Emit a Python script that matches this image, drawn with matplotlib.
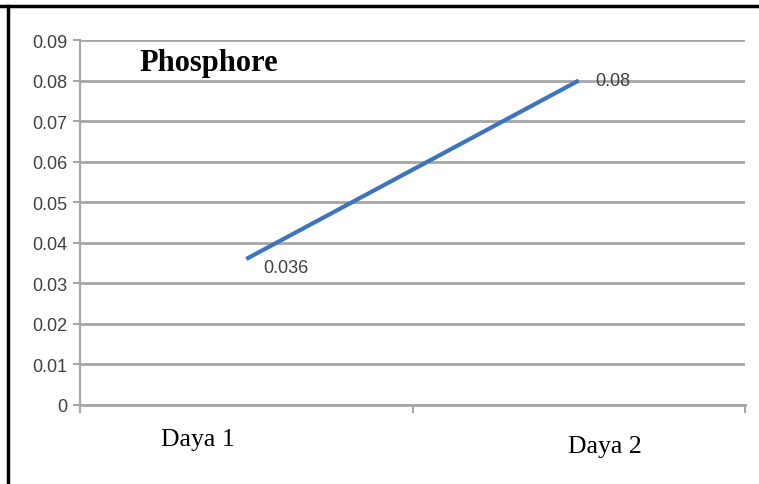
import matplotlib.pyplot as plt
from matplotlib.lines import Line2D

days = ["Daya 1", "Daya 2"]
phosphore = [0.036, 0.08]
point_labels = ["0.036", "0.08"]
y_ticks = [0, 0.01, 0.02, 0.03, 0.04, 0.05, 0.06, 0.07, 0.08, 0.09]
y_tick_labels = ["0", "0.01", "0.02", "0.03", "0.04", "0.05", "0.06", "0.07", "0.08", "0.09"]

fig = plt.figure(figsize=(7.59, 4.85), dpi=100)
ax = fig.add_axes([80 / 759, 1 - 406 / 485, 665 / 759, 365 / 485])

grid_col = "#a6a6a6"
text_col = "#404040"

x = [0.5, 1.5]
ax.plot(x, phosphore, color="#3f74bd", lw=3, solid_capstyle="butt", zorder=3)

ax.text(x[0] + 0.05, phosphore[0], point_labels[0], ha="left", va="top",
        fontsize=13, family="Liberation Sans", color=text_col)
ax.text(x[1] + 0.05, phosphore[1], point_labels[1], ha="left", va="center",
        fontsize=13, family="Liberation Sans", color=text_col)

ax.set_xlim(0, 2)
ax.set_ylim(0, 0.09)
ax.set_yticks(y_ticks)
ax.set_yticklabels(y_tick_labels, family="Liberation Sans", fontsize=13, color=text_col)
ax.set_xticks([0, 1, 2])
ax.set_xticklabels([])
ax.tick_params(axis="y", length=5, width=1.5, color=grid_col, pad=4)
ax.tick_params(axis="x", length=6, width=1.5, color=grid_col)

ax.grid(axis="y", color=grid_col, lw=2)
ax.set_axisbelow(True)
for s in ["top", "right"]:
    ax.spines[s].set_visible(False)
ax.spines["left"].set_color(grid_col)
ax.spines["left"].set_linewidth(1.5)
ax.spines["bottom"].set_color(grid_col)
ax.spines["bottom"].set_linewidth(2)

# category labels sit below the axis, offset from the points
ax.text(0.355, -0.0085, days[0], ha="center", va="center",
        fontsize=18.5, family="Liberation Serif", color="black")
ax.text(1.58, -0.010, days[1], ha="center", va="center",
        fontsize=18.5, family="Liberation Serif", color="black")

ax.text(0.18, 0.0845, "Phosphore", ha="left", va="center", fontsize=22,
        family="Liberation Serif", weight="bold", color="black")

# black frame on top and left
fig.add_artist(Line2D([0, 1], [1 - 7 / 485] * 2, color="black", lw=2.5,
                      transform=fig.transFigure))
fig.add_artist(Line2D([8 / 759] * 2, [0, 1 - 7 / 485], color="black", lw=2.5,
                      transform=fig.transFigure))

fig.savefig("out.png", dpi=100)
